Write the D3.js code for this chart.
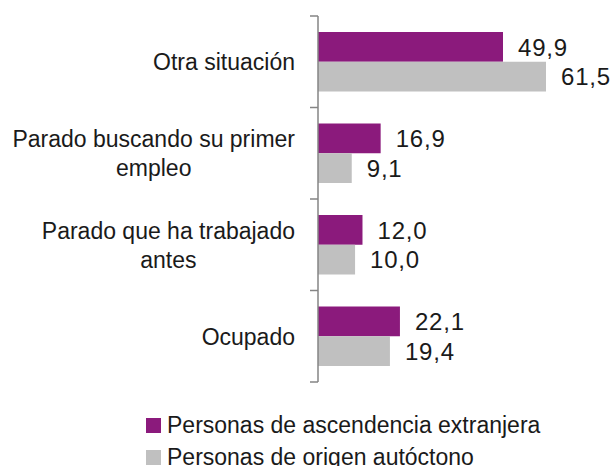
<!DOCTYPE html>
<html lang="es">
<head>
<meta charset="utf-8">
<title>Situación laboral</title>
<script src="https://cdn.jsdelivr.net/npm/d3@7"></script>
<style>
  body { margin: 0; background: #fff; }
  text { font-family: "Liberation Sans", Arial, sans-serif; font-size: 23px; fill: #1a1a1a; }
  text.val { font-size: 24px; letter-spacing: 0.8px; }
</style>
</head>
<body>
<script>
// data
var categories = [
  ["Otra situación"],
  ["Parado buscando su primer", "empleo"],
  ["Parado que ha trabajado", "antes"],
  ["Ocupado"]
];
var seriesNames = ["Personas de ascendencia extranjera", "Personas de origen autóctono"];
var extranjera = [49.9, 16.9, 12.0, 22.1];
var autoctono = [61.5, 9.1, 10.0, 19.4];
var colors = ["#8b1a7c", "#c0c0c0"];

var w = 616, h = 466;
var axisX = 318;

var svg = d3.select("body").append("svg")
  .attr("width", w)
  .attr("height", h);

var rows = categories.map(function(c, i) {
  return { key: c.join(" "), lines: c, values: [extranjera[i], autoctono[i]] };
});

var yScale = d3.scaleBand()
  .domain(rows.map(function(d) { return d.key; }))
  .range([16, 382]);

var inner = d3.scaleBand()
  .domain([0, 1])
  .range([16, yScale.bandwidth() - 16]);

var xScale = d3.scaleLinear()
  .domain([0, 61.5])
  .range([axisX, axisX + 228]);

// groups
var g = svg.selectAll("g.row")
  .data(rows)
  .enter()
  .append("g")
  .attr("class", "row")
  .attr("transform", function(d) { return "translate(0," + yScale(d.key) + ")"; });

g.selectAll("rect")
  .data(function(d) { return d.values; })
  .enter()
  .append("rect")
  .attr("x", xScale(0))
  .attr("y", function(d, i) { return inner(i); })
  .attr("width", function(d) { return xScale(d) - xScale(0); })
  .attr("height", inner.bandwidth())
  .attr("fill", function(d, i) { return colors[i]; });

g.selectAll("text.val")
  .data(function(d) { return d.values; })
  .enter()
  .append("text")
  .attr("class", "val")
  .attr("x", function(d) { return xScale(d) + 15; })
  .attr("y", function(d, i) { return inner(i) + inner.bandwidth() / 2; })
  .attr("dy", "0.36em")
  .text(function(d) { return d.toFixed(1).replace(".", ","); });

// axis (ticks on band edges, no labels)
var yAxis = d3.axisLeft(yScale)
  .tickSize(0)
  .tickFormat("");
var ax = svg.append("g")
  .attr("transform", "translate(" + axisX + ",0)")
  .call(yAxis);
ax.select(".domain").remove();

var edges = rows.map(function(d) { return yScale(d.key); }).concat([yScale.range()[1]]);
ax.append("line")
  .attr("x1", 0).attr("x2", 0)
  .attr("y1", edges[0]).attr("y2", edges[edges.length - 1])
  .attr("stroke", "#858585").attr("stroke-width", 1.5);
ax.selectAll("line.edge")
  .data(edges)
  .enter()
  .append("line")
  .attr("class", "edge")
  .attr("x1", -8).attr("x2", 0)
  .attr("y1", function(d) { return d; }).attr("y2", function(d) { return d; })
  .attr("stroke", "#858585").attr("stroke-width", 1.5);

// category labels, right-aligned block, lines centered within it
var lineH = 29;
g.each(function(d) {
  var lab = d3.select(this).append("text")
    .attr("text-anchor", "middle");
  var n = d.lines.length;
  var tsp = lab.selectAll("tspan")
    .data(d.lines)
    .enter()
    .append("tspan")
    .attr("y", function(t, i) { return yScale.bandwidth() / 2 + (i - (n - 1) / 2) * lineH; })
    .attr("dy", "0.36em")
    .text(function(t) { return t; });
  var maxW = 0;
  tsp.each(function() { maxW = Math.max(maxW, this.getComputedTextLength()); });
  tsp.attr("x", 295 - maxW / 2);
});

// legend
var leg = svg.selectAll("g.leg")
  .data(seriesNames)
  .enter()
  .append("g")
  .attr("class", "leg")
  .attr("transform", function(d, i) { return "translate(146," + (418 + i * 32) + ")"; });
leg.append("rect")
  .attr("width", 15).attr("height", 15)
  .attr("fill", function(d, i) { return colors[i]; });
leg.append("text")
  .attr("x", 21)
  .attr("y", 15)
  .text(function(d) { return d; });
</script>
</body>
</html>
